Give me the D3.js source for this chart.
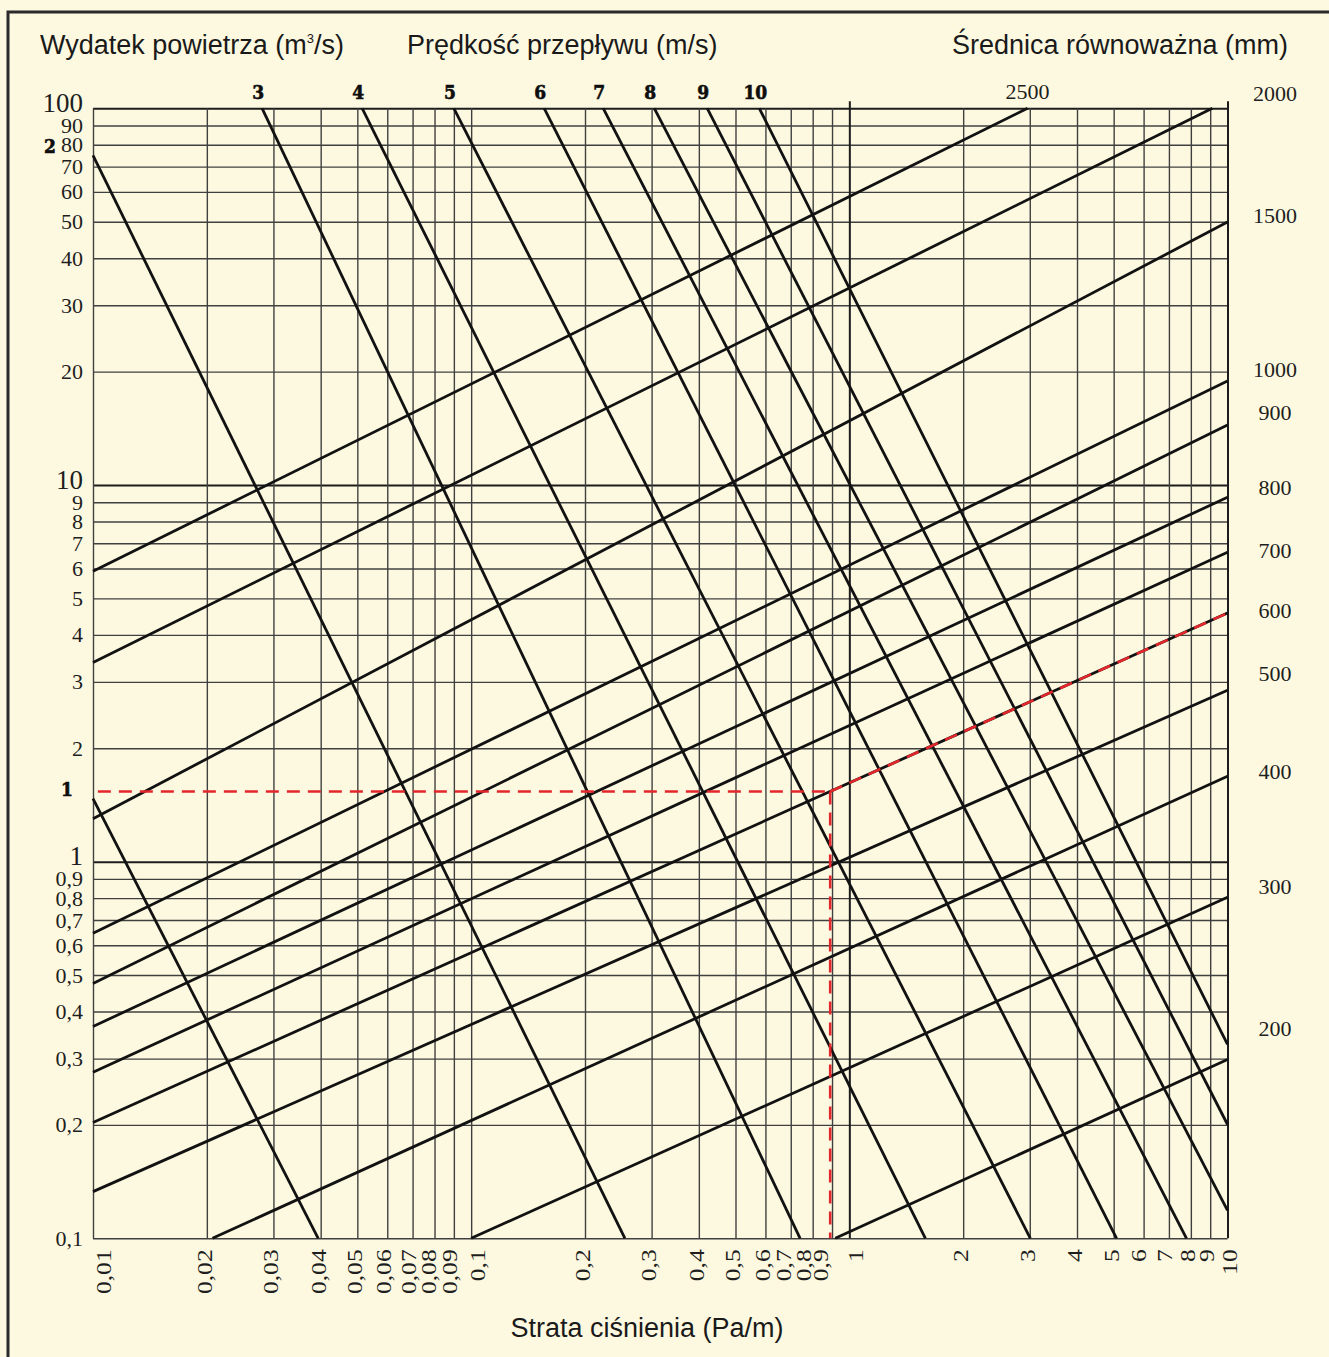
<!DOCTYPE html>
<html lang="pl">
<head>
<meta charset="utf-8">
<title>Wykres strat ciśnienia w przewodach</title>
<script src="https://cdn.jsdelivr.net/npm/d3@7"></script>
<style>
  body { margin: 0; background: #fdf9e0; }
  svg { display: block; }
</style>
</head>
<body>
<script>
// values
var xTicks = [0.01,0.02,0.03,0.04,0.05,0.06,0.07,0.08,0.09,
              0.1,0.2,0.3,0.4,0.5,0.6,0.7,0.8,0.9,
              1,2,3,4,5,6,7,8,9,10];
var yTicks = [0.1,0.2,0.3,0.4,0.5,0.6,0.7,0.8,0.9,
              1,2,3,4,5,6,7,8,9,
              10,20,30,40,50,60,70,80,90,100];

// velocity lines (m/s): [pressure loss Pa/m, flow m3/s] at both ends
var velocities = [1,2,3,4,5,6,7,8,9,10];
var velStart = [[0.01,1.47],[0.01,75],[0.028,100],[0.0515,100],[0.090,100],
                [0.156,100],[0.2235,100],[0.305,100],[0.421,100],[0.578,100]];
var velEnd   = [[0.0394,0.1],[0.255,0.1],[0.741,0.1],[1.589,0.1],[3.01,0.1],
                [5.09,0.1],[7.79,0.1],[10,0.1186],[10,0.2005],[10,0.327]];

// equivalent diameter lines (mm)
var diameters = [2500,2000,1500,1000,900,800,700,600,500,400,300,200];
var diaStart = [[0.01,5.90],[0.01,3.38],[0.01,1.30],[0.01,0.645],[0.01,0.475],
                [0.01,0.365],[0.01,0.276],[0.01,0.203],[0.01,0.133],
                [0.0207,0.1],[0.1,0.1],[0.918,0.1]];
var diaEnd   = [[2.96,100],[9.12,100],[10,49.9],[10,18.87],[10,14.42],
                [10,9.28],[10,6.63],[10,4.57],[10,2.85],[10,1.685],[10,0.804],[10,0.2985]];

// worked example (red dashed)
var exampleLoss = 0.89;
var exampleFlow = 1.535;
var exampleDiameter = 600;

var W = 1329, H = 1357;
var plotL = 93, plotR = 1227.5, plotT = 108.3, plotB = 1238.3;
var serif = "'Liberation Serif', 'Times New Roman', serif";
var sans = "'Liberation Sans', Arial, sans-serif";

var svg = d3.select("body").append("svg")
    .attr("width", W)
    .attr("height", H);

svg.append("rect").attr("width", W).attr("height", H).attr("fill", "#fdf9e0");
svg.append("rect")
    .attr("x", 8).attr("y", 12)
    .attr("width", W + 20).attr("height", H + 20)
    .attr("fill", "none").attr("stroke", "#2b2b2b").attr("stroke-width", 3);

var x = d3.scaleLog().domain([0.01, 10]).range([plotL, plotR]);
var y = d3.scaleLog().domain([0.1, 100]).range([plotB, plotT]);

var fmt = function(d) { return String(d).replace(".", ","); };
var isMajor = function(d) { return d === 1 || d === 10 || d === 100; };

// horizontal grid + left labels
var yAxis = svg.append("g")
    .attr("transform", "translate(" + plotL + ",0)")
    .call(d3.axisLeft(y).tickValues(yTicks).tickSize(-(plotR - plotL)).tickPadding(10).tickFormat(fmt));
yAxis.select(".domain").remove();
yAxis.selectAll(".tick line")
    .attr("stroke", function(d) { return isMajor(d) ? "#1c1c1c" : "#404040"; })
    .attr("stroke-width", function(d) { return isMajor(d) ? 2 : 1.4; });
yAxis.selectAll(".tick text")
    .attr("font-family", serif)
    .attr("fill", "#1e1e1e")
    .attr("font-size", function(d) { return isMajor(d) ? 27 : 22; })
    .attr("dy", function(d) { return isMajor(d) ? "0.12em" : "0.32em"; });

// vertical grid + bottom labels (rotated, a little stretched like the original print)
var stretch = 1.22;
var xShift = {0.01: 10, 0.1: 6, 1: 6, 10: 2, 0.06: -4, 0.07: -4, 0.08: -6, 0.09: -5,
              0.7: -8, 0.8: -10, 0.9: -12, 6: -5, 7: -5, 8: -4, 9: -4};
var xAxis = svg.append("g")
    .attr("transform", "translate(0," + plotB + ")")
    .call(d3.axisBottom(x).tickValues(xTicks).tickSize(-(plotB - plotT)).tickFormat(fmt));
xAxis.select(".domain").remove();
xAxis.selectAll(".tick line")
    .attr("stroke", function(d) { return isMajor(d) ? "#1c1c1c" : "#404040"; })
    .attr("stroke-width", function(d) { return isMajor(d) ? 2 : 1.4; })
    .attr("y2", function(d) { return isMajor(d) ? -(plotB - plotT) - 7 : -(plotB - plotT); });
xAxis.selectAll(".tick text")
    .attr("font-family", serif)
    .attr("fill", "#1e1e1e")
    .attr("font-size", 21)
    .attr("transform", "rotate(-90) scale(" + stretch + ",1)")
    .attr("text-anchor", "end")
    .attr("x", -11 / stretch)
    .attr("y", function(d) { return d in xShift ? xShift[d] : -3; })
    .attr("dy", "0.35em");

var line = d3.line()
    .x(function(d) { return x(d[0]); })
    .y(function(d) { return y(d[1]); });

var chart = svg.append("g");

// diameter lines
chart.selectAll("path.dia")
    .data(diameters)
  .enter().append("path")
    .attr("class", "dia")
    .attr("d", function(d, i) { return line([diaStart[i], diaEnd[i]]); })
    .attr("fill", "none")
    .attr("stroke", "#121212")
    .attr("stroke-width", 2.8);

// velocity lines
chart.selectAll("path.vel")
    .data(velocities)
  .enter().append("path")
    .attr("class", "vel")
    .attr("d", function(d, i) { return line([velStart[i], velEnd[i]]); })
    .attr("fill", "none")
    .attr("stroke", "#121212")
    .attr("stroke-width", 2.8);

// velocity labels
var velLeftX = {1: 67, 2: 50};
chart.selectAll("text.vel")
    .data(velocities)
  .enter().append("text")
    .attr("class", "vel")
    .attr("x", function(d, i) { return velStart[i][1] === 100 ? x(velStart[i][0]) - 4 : velLeftX[d]; })
    .attr("y", function(d, i) { return velStart[i][1] === 100 ? plotT - 9 : y(velStart[i][1]) - 9; })
    .attr("text-anchor", "middle")
    .attr("font-family", "'DejaVu Serif Condensed', 'DejaVu Serif', serif")
    .attr("font-weight", "bold")
    .attr("font-size", 19)
    .attr("fill", "#0e0e0e")
    .attr("stroke", "#0e0e0e")
    .attr("stroke-width", 0.6)
    .attr("dy", function(d, i) { return velStart[i][1] === 100 ? 0 : "0.35em"; })
    .text(function(d) { return d; });

// diameter labels
var rightCol = 1275;
var diaShift = {1500: -7, 1000: -12, 900: -13, 800: -10, 700: -2, 600: -3,
                500: -17, 400: -5, 300: -11, 200: -31};
chart.selectAll("text.dia")
    .data(diameters)
  .enter().append("text")
    .attr("class", "dia")
    .attr("x", function(d, i) { return d === 2500 ? x(diaEnd[i][0]) : rightCol; })
    .attr("y", function(d, i) {
        if (d === 2500) return plotT - 17;
        if (d === 2000) return plotT - 15;
        return y(diaEnd[i][1]) + diaShift[d];
    })
    .attr("dy", "0.35em")
    .attr("text-anchor", "middle")
    .attr("font-family", serif)
    .attr("font-size", 22)
    .attr("fill", "#1e1e1e")
    .text(function(d) { return d; });

// worked example
var diaIdx = diameters.indexOf(exampleDiameter);
var red = svg.append("g")
    .attr("fill", "none")
    .attr("stroke", "#e3262b")
    .attr("stroke-width", 2.6)
    .attr("stroke-dasharray", "13,8");
red.append("path").attr("d", line([[0.0103, exampleFlow], [exampleLoss, exampleFlow]]));
red.append("path").attr("d", line([[exampleLoss, exampleFlow], [exampleLoss, 0.1]]));
red.append("path").attr("d", line([[exampleLoss, exampleFlow], diaEnd[diaIdx]]));

// titles
var titles = svg.append("g")
    .attr("font-family", sans)
    .attr("font-size", 27)
    .attr("fill", "#1a1a1a");
var t1 = titles.append("text").attr("x", 40).attr("y", 54).text("Wydatek powietrza (m");
t1.append("tspan").attr("font-size", 13).attr("dy", -11).text("3");
t1.append("tspan").attr("dy", 11).text("/s)");
titles.append("text").attr("x", 407).attr("y", 54).text("Prędkość przepływu (m/s)");
titles.append("text").attr("x", 1288).attr("y", 54).attr("text-anchor", "end").text("Średnica równoważna (mm)");
titles.append("text").attr("x", 647).attr("y", 1337).attr("text-anchor", "middle").text("Strata ciśnienia (Pa/m)");
</script>
</body>
</html>
